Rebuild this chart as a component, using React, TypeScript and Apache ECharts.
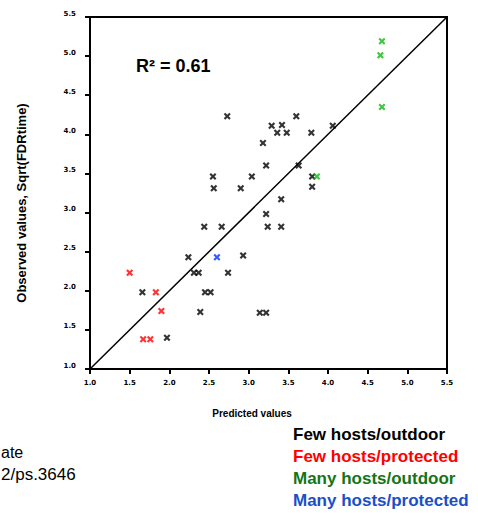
import React, { useEffect, useRef } from "react";
import * as echarts from "echarts";

const tickLabels = ["1.0", "1.5", "2.0", "2.5", "3.0", "3.5", "4.0", "4.5", "5.0", "5.5"];

const fewOutdoor: [number, number][] = [
  [2.73, 4.23], [3.6, 4.23], [3.29, 4.11], [3.42, 4.12], [3.36, 4.02], [3.48, 4.02],
  [3.79, 4.02], [4.06, 4.11], [3.18, 3.89], [3.22, 3.6], [3.63, 3.6], [3.04, 3.46],
  [3.8, 3.46], [3.8, 3.33], [2.9, 3.31], [2.55, 3.46], [2.56, 3.31], [3.41, 3.17],
  [3.22, 2.98], [3.24, 2.82], [3.41, 2.82], [2.44, 2.82], [2.66, 2.82], [2.24, 2.43],
  [2.93, 2.45], [2.31, 2.23], [2.37, 2.23], [2.74, 2.23], [1.66, 1.98], [2.45, 1.98],
  [2.52, 1.98], [2.39, 1.73], [3.14, 1.72], [3.22, 1.72], [1.97, 1.4],
];
const fewProtected: [number, number][] = [
  [1.5, 2.23], [1.83, 1.98], [1.9, 1.74], [1.67, 1.38], [1.76, 1.38],
];
const manyOutdoor: [number, number][] = [
  [4.68, 5.19], [4.66, 5.01], [4.68, 4.35], [3.86, 3.46],
];
const manyProtected: [number, number][] = [[2.6, 2.43]];
const identityLine: [number, number][] = [[1, 1], [5.5, 5.5]];

const legendItems = [
  { text: "Few hosts/outdoor", color: "#000000" },
  { text: "Few hosts/protected", color: "#ff0000" },
  { text: "Many hosts/outdoor", color: "#157515" },
  { text: "Many hosts/protected", color: "#1a4fc8" },
];

const X_SYMBOL =
  "path://M1.5,0 L3.5,2 L5.5,0 L7,1.5 L5,3.5 L7,5.5 L5.5,7 L3.5,5 L1.5,7 L0,5.5 L2,3.5 L0,1.5 Z";

export default function App() {
  const ref = useRef<HTMLDivElement>(null);
  useEffect(() => {
    if (!ref.current) return;
    const chart = echarts.init(ref.current, null, { renderer: "svg" });
    const tickFont = { fontSize: 7, fontWeight: "bold" as const, color: "#000", fontFamily: "DejaVu Sans" };
    const axisCommon = {
      type: "value" as const,
      min: 1,
      max: 5.5,
      interval: 0.5,
      axisLine: { show: true, lineStyle: { color: "#000", width: 2 } },
      axisTick: { show: true, inside: false, length: 5, lineStyle: { color: "#000", width: 2 } },
      splitLine: { show: false },
    };
    const scatter = (data: [number, number][], color: string) => ({
      type: "scatter" as const,
      data,
      symbol: X_SYMBOL,
      symbolSize: 7,
      itemStyle: { color },
    });
    chart.setOption({
      animation: false,
      backgroundColor: "#fff",
      grid: {
        left: 90, top: 17, width: 357, height: 352,
        show: true, borderColor: "#000", borderWidth: 2, backgroundColor: "transparent",
      },
      xAxis: {
        ...axisCommon,
        axisLabel: { ...tickFont, margin: 10, formatter: (v: number) => tickLabels[Math.round((v - 1) / 0.5)] ?? "" },
      },
      yAxis: {
        ...axisCommon,
        axisLabel: {
          ...tickFont, margin: 14, verticalAlign: "bottom",
          formatter: (v: number) => tickLabels[Math.round((v - 1) / 0.5)] ?? "",
        },
      },
      series: [
        {
          type: "line",
          data: identityLine,
          symbol: "none",
          lineStyle: { color: "#000", width: 1.5 },
          z: 1,
        },
        scatter(fewOutdoor, "#000000"),
        scatter(fewProtected, "#ff0000"),
        scatter(manyOutdoor, "#10b810"),
        scatter(manyProtected, "#0030ff"),
      ],
      graphic: [
        {
          type: "text", left: 136, top: 57,
          style: { text: "R² = 0.61", font: "bold 18px Arial, 'Liberation Sans'", fill: "#000" },
        },
        {
          type: "text", x: 21, y: 203, rotation: Math.PI / 2,
          style: {
            text: "Observed values, Sqrt(FDRtime)", font: "bold 13px Arial, 'Liberation Sans'",
            fill: "#000", align: "center", verticalAlign: "middle",
          },
        },
        {
          type: "text", x: 252, y: 413,
          style: {
            text: "Predicted values", font: "bold 10px Arial, 'Liberation Sans'",
            fill: "#000", align: "center", verticalAlign: "middle",
          },
        },
        {
          type: "text", x: 1, y: 452,
          style: { text: "ate", font: "16px Arial, 'Liberation Sans'", fill: "#000", verticalAlign: "middle" },
        },
        {
          type: "text", x: 1, y: 474,
          style: { text: "2/ps.3646", font: "17px Arial, 'Liberation Sans'", fill: "#000", verticalAlign: "middle" },
        },
        ...legendItems.map((it, i) => ({
          type: "text" as const,
          x: 293,
          y: [434, 456, 478, 500][i],
          style: {
            text: it.text, font: "bold 17px Arial, 'Liberation Sans'", fill: it.color, verticalAlign: "middle",
          },
        })),
      ],
    });
    return () => chart.dispose();
  }, []);
  return (
    <div
      ref={ref}
      style={{ position: "absolute", left: 0, top: 0, width: 478, height: 513, background: "#fff" }}
    />
  );
}
